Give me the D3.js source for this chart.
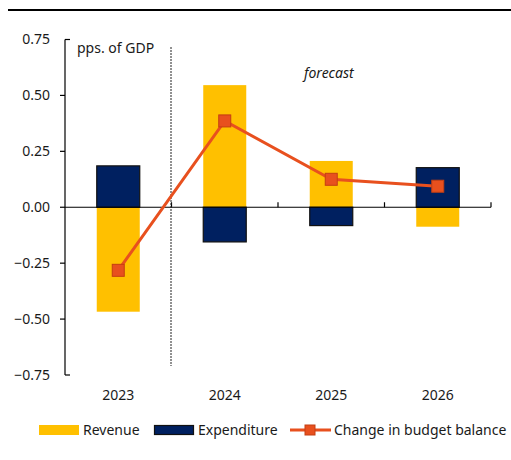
<!DOCTYPE html>
<html><head><meta charset="utf-8">
<script src="https://cdn.jsdelivr.net/npm/d3@7"></script>
<style>body{margin:0;background:#fff}svg{display:block}text{font-family:"Noto Sans",sans-serif;fill:#1a1a1a}</style>
</head><body><svg id="c" width="511" height="460"></svg>
<script>
const years = ["2023","2024","2025","2026"];
const revenue = [-0.467, 0.546, 0.207, -0.087];
const expenditure = [0.185, -0.155, -0.082, 0.177];
const balance = [-0.282, 0.386, 0.125, 0.094];
const yTicks = [-0.75,-0.5,-0.25,0,0.25,0.5,0.75];
const legendLabels = ["Revenue","Expenditure","Change in budget balance"];

const svg = d3.select("#c");
const YEL="#FFC000", NAVY="#002060", ORG="#E8501E";

svg.append("line").attr("x1",8).attr("x2",511).attr("y1",10).attr("y2",10).attr("stroke","#000").attr("stroke-width",2.2);

const x = d3.scaleBand().domain(years).range([65,491]);
const y = d3.scaleLinear().domain([-0.75,0.75]).range([375,39.5]);
const bw = 43;

// revenue bars
svg.append("g").selectAll("rect").data(years).join("rect")
  .attr("x",d=>x(d)+x.bandwidth()/2-bw/2).attr("width",bw)
  .attr("y",(d,i)=>y(Math.max(0,revenue[i]))).attr("height",(d,i)=>Math.abs(y(revenue[i])-y(0)))
  .attr("fill",YEL);
// expenditure bars
svg.append("g").selectAll("rect").data(years).join("rect")
  .attr("x",d=>x(d)+x.bandwidth()/2-bw/2).attr("width",bw)
  .attr("y",(d,i)=>y(Math.max(0,expenditure[i]))).attr("height",(d,i)=>Math.abs(y(expenditure[i])-y(0)))
  .attr("fill",NAVY).attr("stroke","#111").attr("stroke-width",1.2);

// y axis
const ya = svg.append("g").attr("transform","translate(65,0)");
ya.append("line").attr("x1",0).attr("x2",0).attr("y1",y(0.75)).attr("y2",y(-0.75)).attr("stroke","#000").attr("stroke-width",1.2);
ya.selectAll(".t").data(yTicks).join("line")
  .attr("x1",d=>Math.abs(d)===0.75?0:-5).attr("x2",d=>Math.abs(d)===0.75?5:0)
  .attr("y1",d=>y(d)).attr("y2",d=>y(d)).attr("stroke","#000").attr("stroke-width",1.2);
ya.selectAll("text").data(yTicks).join("text")
  .attr("x",-15).attr("y",d=>y(d)).attr("dy","0.35em").attr("text-anchor","end")
  .attr("font-size",14).text(d3.format(".2f"));

// x axis
const xa = svg.append("g");
xa.append("line").attr("x1",65).attr("x2",491).attr("y1",y(0)).attr("y2",y(0)).attr("stroke","#000").attr("stroke-width",1.2);
xa.selectAll("line.t").data(years.slice(1).concat(["end"])).join("line").attr("class","t")
  .attr("x1",d=>d==="end"?491:x(d)).attr("x2",d=>d==="end"?491:x(d))
  .attr("y1",y(0)-5).attr("y2",y(0)).attr("stroke","#000").attr("stroke-width",1.2);
xa.selectAll("text").data(years).join("text")
  .attr("x",d=>x(d)+x.bandwidth()/2).attr("y",400).attr("text-anchor","middle")
  .attr("font-size",14).text(d=>d);

// forecast divider
svg.append("line").attr("x1",x("2024")-0.5).attr("x2",x("2024")-0.5).attr("y1",47).attr("y2",366)
  .attr("stroke","#222").attr("stroke-width",1).attr("stroke-dasharray","2,1");

svg.append("text").attr("x",77).attr("y",53).attr("font-size",14).text("pps. of GDP");
svg.append("text").attr("x",304).attr("y",78).attr("font-size",14).attr("font-style","italic").text("forecast");

// line
const line = d3.line().x(d=>x(d.y)+x.bandwidth()/2).y(d=>y(d.v));
const pts = years.map((yy,i)=>({y:yy,v:balance[i]}));
svg.append("path").datum(pts).attr("d",line).attr("fill","none").attr("stroke",ORG).attr("stroke-width",3);
svg.append("g").selectAll("rect").data(pts).join("rect")
  .attr("x",d=>x(d.y)+x.bandwidth()/2-6).attr("y",d=>y(d.v)-6).attr("width",12).attr("height",12)
  .attr("fill",ORG).attr("stroke","#C43E12").attr("stroke-width",1);

// legend
const lg = svg.append("g");
lg.append("rect").attr("x",39).attr("y",425).attr("width",40).attr("height",10).attr("fill",YEL);
lg.append("text").attr("x",83).attr("y",435).attr("font-size",14).text(legendLabels[0]);
lg.append("rect").attr("x",154.5).attr("y",425.5).attr("width",39).attr("height",9).attr("fill",NAVY).attr("stroke","#111").attr("stroke-width",1.2);
lg.append("text").attr("x",198).attr("y",435).attr("font-size",14).text(legendLabels[1]);
lg.append("line").attr("x1",290).attr("x2",331).attr("y1",430).attr("y2",430).attr("stroke",ORG).attr("stroke-width",3);
lg.append("rect").attr("x",305).attr("y",425).attr("width",10).attr("height",10).attr("fill",ORG).attr("stroke","#C43E12").attr("stroke-width",1);
lg.append("text").attr("x",334).attr("y",435).attr("font-size",14).text(legendLabels[2]);
</script></body></html>
